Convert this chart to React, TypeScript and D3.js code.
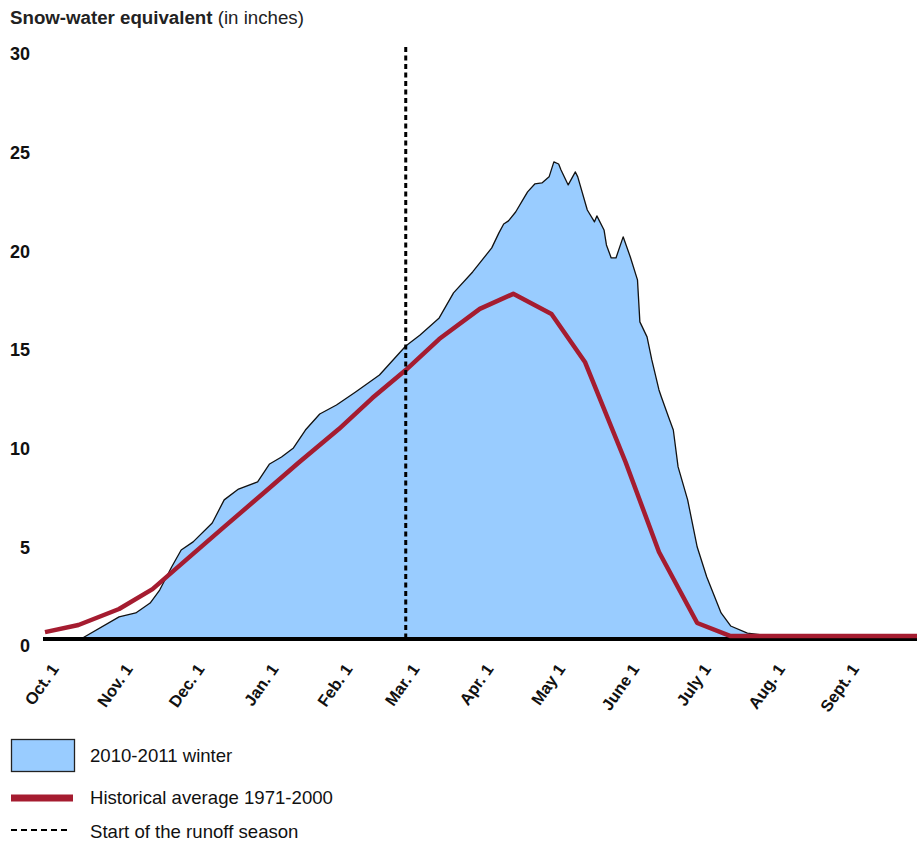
import React, { useEffect, useRef } from 'react';
import * as d3 from 'd3';

// x axis: month starts and their labels
const monthTicks = ['2010-10-01', '2010-11-01', '2010-12-01', '2011-01-01', '2011-02-01', '2011-03-01',
  '2011-04-01', '2011-05-01', '2011-06-01', '2011-07-01', '2011-08-01', '2011-09-01'];
const monthLabels = ['Oct. 1', 'Nov. 1', 'Dec. 1', 'Jan. 1', 'Feb. 1', 'Mar. 1',
  'Apr. 1', 'May 1', 'June 1', 'July 1', 'Aug. 1', 'Sept. 1'];
const yTicks = [0, 5, 10, 15, 20, 25, 30];

// 2010-2011 winter (inches)
const snowDates = ['2010-10-01', '2010-10-16', '2010-11-01', '2010-11-08', '2010-11-14', '2010-11-18',
  '2010-11-23', '2010-11-27', '2010-12-02', '2010-12-10', '2010-12-15', '2010-12-21', '2010-12-29',
  '2011-01-03', '2011-01-08', '2011-01-13', '2011-01-18', '2011-01-24', '2011-01-31', '2011-02-08',
  '2011-02-18', '2011-03-01', '2011-03-07', '2011-03-15', '2011-03-21', '2011-03-29', '2011-04-06',
  '2011-04-09', '2011-04-11', '2011-04-13', '2011-04-16', '2011-04-19', '2011-04-21', '2011-04-24',
  '2011-04-27', '2011-04-30', '2011-05-02', '2011-05-04', '2011-05-05', '2011-05-08', '2011-05-11',
  '2011-05-12', '2011-05-16', '2011-05-19', '2011-05-20', '2011-05-23', '2011-05-24', '2011-05-26',
  '2011-05-28', '2011-05-31', '2011-06-03', '2011-06-06', '2011-06-07', '2011-06-10', '2011-06-12',
  '2011-06-15', '2011-06-16', '2011-06-19', '2011-06-21', '2011-06-23', '2011-06-27', '2011-07-01',
  '2011-07-05', '2011-07-11', '2011-07-15', '2011-07-22', '2011-07-29', '2011-08-05', '2011-10-01'];
const snowValues = [0, 0, 1.12, 1.32, 1.82, 2.48,
  3.65, 4.51, 4.92, 5.88, 7.05, 7.6, 7.96,
  8.87, 9.22, 9.68, 10.59, 11.4, 11.86, 12.52,
  13.38, 14.85, 15.41, 16.27, 17.54, 18.6, 19.82,
  20.58, 21.03, 21.19, 21.64, 22.25, 22.66, 23.06,
  23.11, 23.42, 24.18, 24.07, 23.77, 23.01, 23.67,
  23.42, 21.74, 21.14, 21.44, 20.73, 19.97, 19.31,
  19.31, 20.38, 19.36, 18.2, 16.07, 15.31, 14.14,
  12.62, 12.26, 11.25, 10.59, 8.72, 7.05, 4.66,
  3.14, 1.32, 0.66, 0.3, 0.2, 0.15, 0.15];

// Historical average 1971-2000 (inches)
const avgDates = ['2010-10-01', '2010-10-15', '2010-11-01', '2010-11-15', '2010-12-01', '2010-12-15',
  '2011-01-01', '2011-01-15', '2011-02-01', '2011-02-15', '2011-03-01', '2011-03-15', '2011-04-01',
  '2011-04-15', '2011-05-01', '2011-05-15', '2011-06-01', '2011-06-15', '2011-07-01', '2011-07-15',
  '2011-10-01'];
const avgValues = [0.35, 0.71, 1.52, 2.53, 4.21, 5.68,
  7.45, 8.92, 10.64, 12.21, 13.63, 15.2, 16.73,
  17.49, 16.47, 14.04, 8.97, 4.41, 0.81, 0.15,
  0.15];

const runoffStart = '2011-03-01';

const FONT = '"Liberation Sans", Arial, sans-serif';
const BLUE = '#99ccff';
const RED = '#a51c30';

const App = () => {
  const svgRef = useRef<SVGSVGElement>(null);

  useEffect(() => {
    const svgWidth = 918;
    const svgHeight = 842;
    const parse = d3.timeParse('%Y-%m-%d');

    const svg = d3.select(svgRef.current)
                  .attr('width', svgWidth)
                  .attr('height', svgHeight)
                  .style('font-family', FONT);
    svg.selectAll('*').remove();

    const x = d3.scaleTime()
                .domain([parse('2010-10-01')!, parse('2011-10-01')!])
                .range([45, 917]);
    const y = d3.scaleLinear()
                .domain([0, 30])
                .range([639, 47]);

    const snow = snowDates.map((d, i) => ({ date: parse(d)!, value: snowValues[i] }));
    const avg = avgDates.map((d, i) => ({ date: parse(d)!, value: avgValues[i] }));

    // title
    const title = svg.append('text')
                     .attr('x', 10)
                     .attr('y', 24)
                     .attr('font-size', 18.7)
                     .attr('fill', '#222');
    title.append('tspan').attr('font-weight', 'bold').text('Snow-water equivalent');
    title.append('tspan').text(' (in inches)');

    // 2010-2011 area
    const area = d3.area<{ date: Date; value: number }>()
                   .x(d => x(d.date))
                   .y0(y(0))
                   .y1(d => y(d.value));
    svg.append('path')
       .datum(snow)
       .attr('fill', BLUE)
       .attr('d', area);

    const line = d3.line<{ date: Date; value: number }>()
                   .x(d => x(d.date))
                   .y(d => y(d.value));
    svg.append('path')
       .datum(snow)
       .attr('fill', 'none')
       .attr('stroke', '#111')
       .attr('stroke-width', 1.3)
       .attr('stroke-linejoin', 'round')
       .attr('d', line);

    // y axis labels
    const yAxis = svg.append('g')
                     .attr('transform', 'translate(30,0)')
                     .call(d3.axisLeft(y).tickValues(yTicks).tickSize(0).tickPadding(0));
    yAxis.select('.domain').remove();
    yAxis.selectAll('text')
         .attr('dy', '0.72em')
         .attr('font-family', FONT)
         .attr('font-size', 18)
         .attr('font-weight', 'bold')
         .attr('fill', '#111');

    // x axis
    const xAxis = svg.append('g')
                     .attr('transform', `translate(0, ${y(0)})`)
                     .call(d3.axisBottom(x)
                             .tickValues(monthTicks.map(d => parse(d)!))
                             .tickSize(0)
                             .tickSizeOuter(0)
                             .tickFormat((_, i) => monthLabels[i]));
    xAxis.select('.domain')
         .attr('stroke', '#000')
         .attr('stroke-width', 4)
         .attr('d', `M43,0H917`);
    xAxis.selectAll('text')
         .attr('x', 0)
         .attr('y', 0)
         .attr('dy', 0)
         .attr('transform', 'translate(14,30) rotate(-55)')
         .attr('text-anchor', 'end')
         .attr('font-family', FONT)
         .attr('font-size', 16.5)
         .attr('font-weight', 'bold')
         .attr('fill', '#111');

    // historical average
    svg.append('path')
       .datum(avg)
       .attr('fill', 'none')
       .attr('stroke', RED)
       .attr('stroke-width', 4.5)
       .attr('stroke-linejoin', 'round')
       .attr('d', line);

    // start of runoff season
    svg.append('line')
       .attr('x1', x(parse(runoffStart)!))
       .attr('x2', x(parse(runoffStart)!))
       .attr('y1', y(30))
       .attr('y2', y(0))
       .attr('stroke', '#000')
       .attr('stroke-width', 3)
       .attr('stroke-dasharray', '5,3.5');

    // legend
    const legend = svg.append('g');
    legend.append('rect')
          .attr('x', 11.5).attr('y', 739.5)
          .attr('width', 63).attr('height', 32)
          .attr('fill', BLUE)
          .attr('stroke', '#222')
          .attr('stroke-width', 1.3);
    legend.append('line')
          .attr('x1', 11).attr('x2', 73)
          .attr('y1', 798).attr('y2', 798)
          .attr('stroke', RED)
          .attr('stroke-width', 7);
    legend.append('line')
          .attr('x1', 11).attr('x2', 71)
          .attr('y1', 830).attr('y2', 830)
          .attr('stroke', '#000')
          .attr('stroke-width', 2)
          .attr('stroke-dasharray', '6,4');
    const labels = ['2010-2011 winter', 'Historical average 1971-2000', 'Start of the runoff season'];
    const labelY = [762, 804, 838];
    legend.selectAll('text.lbl')
          .data(labels)
          .join('text')
          .attr('class', 'lbl')
          .attr('x', 90)
          .attr('y', (_, i) => labelY[i])
          .attr('font-size', 18.6)
          .attr('fill', '#111')
          .text(d => d);
  }, []);

  return <svg ref={svgRef} style={{ position: 'absolute', left: 0, top: 0 }}></svg>;
};

export default App;
